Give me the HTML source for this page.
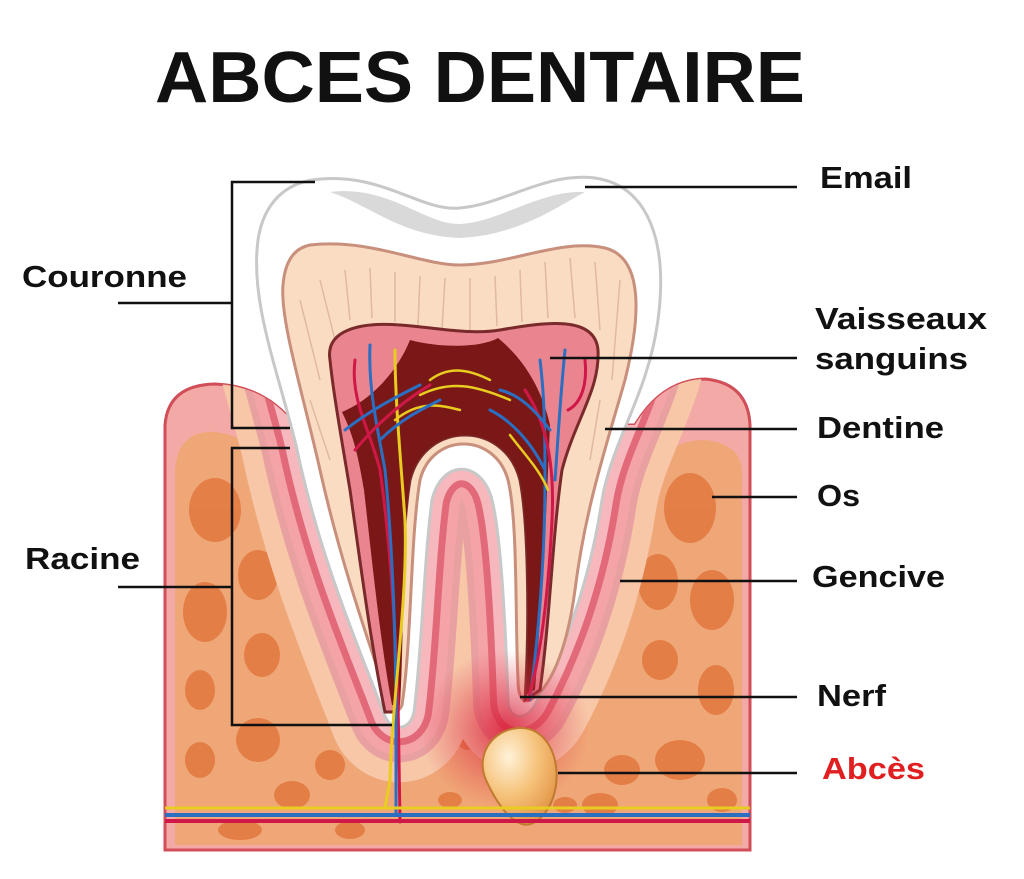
<!DOCTYPE html>
<html><head><meta charset="utf-8"><style>
html,body{margin:0;padding:0;background:#fff;}
svg{display:block}
text{font-family:"Liberation Sans",Arial,sans-serif;font-weight:bold;}
</style></head><body>
<svg width="1024" height="879" viewBox="0 0 1024 879" xmlns="http://www.w3.org/2000/svg">
<defs>
<radialGradient id="glow" cx="0.5" cy="0.5" r="0.5">
<stop offset="0" stop-color="#d8203a" stop-opacity="0.85"/>
<stop offset="1" stop-color="#e04050" stop-opacity="0"/>
</radialGradient>
<radialGradient id="abs" cx="0.35" cy="0.3" r="0.8">
<stop offset="0" stop-color="#fff2d8"/>
<stop offset="0.5" stop-color="#f6c27a"/>
<stop offset="1" stop-color="#e09040"/>
</radialGradient>
<path id="blk" d="M165,850 L165,425 Q168,385 215,384 Q265,386 295,425 L635,425 Q662,380 705,379 Q748,383 750,425 L750,850 Z"/>
<clipPath id="cb"><use href="#blk"/></clipPath>
<path id="ep" d="M312,180 C380,170 420,212 460,208 C505,204 545,172 595,178 C650,186 668,245 658,320 C648,395 612,440 602,500 C590,580 565,650 535,705 C525,722 508,720 508,700 C506,640 502,540 492,500 C482,460 442,458 432,500 C424,560 422,650 414,712 C410,732 390,732 384,714 C360,650 320,560 296,445 C276,365 250,300 258,240 C264,200 288,184 312,180 Z"/>
</defs>
<rect width="1024" height="879" fill="#fff"/>

<!-- gum block -->
<use href="#blk" fill="#f3a9a6" stroke="#d04e58" stroke-width="3"/>
<path d="M175,845 L175,470 Q178,430 215,432 Q250,436 280,470 L650,470 Q670,440 705,440 Q740,444 742,470 L742,845 Z" fill="#f0a777"/>
<g fill="#e2783f" opacity="0.85">
<ellipse cx="215" cy="510" rx="26" ry="32"/><ellipse cx="205" cy="612" rx="22" ry="30"/><ellipse cx="258" cy="575" rx="20" ry="25"/>
<ellipse cx="200" cy="690" rx="15" ry="20"/><ellipse cx="262" cy="655" rx="18" ry="22"/><ellipse cx="200" cy="760" rx="15" ry="18"/>
<ellipse cx="258" cy="740" rx="22" ry="22"/><ellipse cx="292" cy="795" rx="18" ry="14"/><ellipse cx="330" cy="765" rx="15" ry="15"/>
<ellipse cx="240" cy="830" rx="22" ry="10"/><ellipse cx="690" cy="508" rx="26" ry="35"/><ellipse cx="658" cy="582" rx="20" ry="28"/>
<ellipse cx="712" cy="600" rx="22" ry="30"/><ellipse cx="660" cy="660" rx="18" ry="20"/><ellipse cx="716" cy="690" rx="18" ry="25"/>
<ellipse cx="680" cy="760" rx="25" ry="20"/><ellipse cx="622" cy="770" rx="18" ry="15"/><ellipse cx="722" cy="800" rx="15" ry="12"/>
<ellipse cx="600" cy="805" rx="18" ry="12"/><ellipse cx="455" cy="665" rx="8" ry="6"/><ellipse cx="468" cy="742" rx="10" ry="8"/>
<ellipse cx="450" cy="800" rx="12" ry="8"/><ellipse cx="565" cy="805" rx="12" ry="8"/><ellipse cx="350" cy="830" rx="15" ry="9"/>
</g>

<g clip-path="url(#cb)">
<use href="#ep" stroke="#f7c7a8" stroke-width="110" fill="none"/>
<use href="#ep" stroke="#e8a0a0" stroke-width="70" fill="none"/>
<use href="#ep" stroke="#f4a4a6" stroke-width="56" fill="none"/>
<use href="#ep" stroke="#e26a78" stroke-width="36" fill="none"/>
<use href="#ep" stroke="#f6b8bc" stroke-width="22" fill="none"/>
</g>
<use href="#ep" fill="#ffffff" stroke="#c8c8c8" stroke-width="3"/>
<path d="M330,192 C390,185 425,225 460,224 C500,222 540,190 585,192 C560,205 520,235 460,238 C400,236 370,205 330,192 Z" fill="#d9d9d9"/>

<!-- dentine -->
<path d="M310,245 C370,238 420,265 460,265 C510,265 560,238 605,248 C645,258 640,320 625,380 C605,450 585,510 575,590 C567,650 550,690 530,700 C520,705 518,690 518,680 C515,620 518,520 508,480 C495,432 432,432 420,480 C410,540 412,640 402,705 C398,715 390,712 388,700 C368,640 340,560 320,470 C302,390 280,320 283,285 C285,260 295,248 310,245 Z" fill="#f9dcc2" stroke="#c8907c" stroke-width="3"/>
<g stroke="#dfb9a0" stroke-width="1.5">
<line x1="300" y1="300" x2="320" y2="380"/><line x1="320" y1="280" x2="335" y2="340"/><line x1="345" y1="270" x2="350" y2="320"/>
<line x1="370" y1="268" x2="372" y2="318"/><line x1="395" y1="272" x2="395" y2="322"/><line x1="420" y1="276" x2="418" y2="326"/>
<line x1="445" y1="278" x2="442" y2="330"/><line x1="470" y1="278" x2="470" y2="330"/><line x1="495" y1="276" x2="497" y2="326"/>
<line x1="520" y1="270" x2="522" y2="322"/><line x1="545" y1="262" x2="548" y2="318"/><line x1="570" y1="258" x2="575" y2="318"/>
<line x1="595" y1="262" x2="600" y2="330"/><line x1="620" y1="280" x2="612" y2="380"/><line x1="310" y1="400" x2="330" y2="460"/>
<line x1="600" y1="400" x2="590" y2="460"/>
</g>

<!-- pulp -->
<path d="M330,360 C325,330 360,322 400,325 C440,328 470,335 500,330 C545,322 595,315 598,350 C600,390 575,420 562,470 C552,540 550,620 540,690 L525,700 C530,620 528,520 520,480 C505,420 425,420 410,480 C400,540 402,640 398,712 L385,712 C370,640 360,560 350,490 C340,430 333,390 330,360 Z" fill="#ea8590" stroke="#7a2a2a" stroke-width="3"/>
<path d="M410,340 C440,348 480,348 498,338 C525,360 542,390 550,425 C548,470 545,560 535,690 L526,695 C530,620 528,520 520,480 C505,420 425,420 410,480 C402,540 404,640 400,705 L392,705 C380,640 372,560 364,490 C356,440 348,425 342,412 C372,400 398,370 410,340 Z" fill="#7a1818"/>

<!-- vessels -->
<g fill="none" stroke-width="3" stroke-linecap="round">
<path d="M355,360 C350,400 370,430 380,470 C390,540 395,620 398,700 L400,822" stroke="#d01848"/>
<path d="M370,345 C368,390 378,430 385,470 C392,540 395,620 396,700 L396,815" stroke="#2a6fc2"/>
<path d="M395,350 C395,400 400,450 405,520 C408,600 392,700 390,780 L385,808" stroke="#e8cc20"/>
<path d="M540,360 C545,400 545,440 545,480 C545,560 538,640 530,700" stroke="#2a6fc2"/>
<path d="M565,350 C560,400 558,440 555,480" stroke="#2a6fc2"/>
<path d="M585,360 C588,390 578,405 568,410" stroke="#d01848"/>
<path d="M525,390 C545,420 555,460 552,520 C548,600 540,660 528,700" stroke="#d01848"/>
<path d="M430,380 C450,365 470,370 490,380 M420,395 C450,380 475,385 510,400 M395,420 C420,400 440,405 460,410" stroke="#e8cc20" stroke-width="2.5"/>
<path d="M345,430 C370,410 400,395 420,385 M380,440 C400,420 420,410 440,400" stroke="#2a6fc2"/>
<path d="M355,450 C380,420 405,400 430,385" stroke="#d01848"/>
<path d="M490,410 C510,420 530,440 545,470 M500,390 C520,395 535,410 550,430" stroke="#2a6fc2"/>
<path d="M510,435 C525,455 540,470 548,490" stroke="#e8cc20" stroke-width="2.5"/>
</g>

<!-- abscess -->
<ellipse cx="505" cy="730" rx="85" ry="80" fill="url(#glow)"/>
<path d="M518,728 C545,726 560,755 556,785 C552,812 535,828 522,824 C508,820 495,800 486,780 C475,755 492,730 518,728 Z" fill="url(#abs)" stroke="#c07a30" stroke-width="2"/>

<!-- bottom stripes -->
<line x1="165" y1="808" x2="750" y2="808" stroke="#e8cc20" stroke-width="3"/>
<line x1="165" y1="815" x2="750" y2="815" stroke="#2a6fc2" stroke-width="4"/>
<line x1="165" y1="821" x2="750" y2="821" stroke="#d01848" stroke-width="4"/>

<!-- leader lines -->
<g stroke="#111" stroke-width="2.5" fill="none">
<polyline points="315,182 232,182 232,428 290,428"/>
<line x1="118" y1="303" x2="232" y2="303"/>
<polyline points="290,448 232,448 232,725 392,725"/>
<line x1="118" y1="587" x2="232" y2="587"/>
<line x1="585" y1="187" x2="797" y2="187"/>
<line x1="550" y1="358" x2="797" y2="358"/>
<line x1="605" y1="429" x2="797" y2="429"/>
<line x1="712" y1="497" x2="797" y2="497"/>
<line x1="620" y1="581" x2="797" y2="581"/>
<line x1="520" y1="697" x2="797" y2="697"/>
<line x1="558" y1="773" x2="797" y2="773"/>
</g>

<text x="155" y="102" font-size="72" fill="#111" textLength="650" lengthAdjust="spacingAndGlyphs">ABCES DENTAIRE</text>
<g font-size="31" fill="#111">
<text x="820" y="188" textLength="92" lengthAdjust="spacingAndGlyphs">Email</text>
<text x="815" y="329" textLength="172" lengthAdjust="spacingAndGlyphs">Vaisseaux</text>
<text x="815" y="369" textLength="153" lengthAdjust="spacingAndGlyphs">sanguins</text>
<text x="817" y="438" textLength="127" lengthAdjust="spacingAndGlyphs">Dentine</text>
<text x="817" y="506" textLength="43" lengthAdjust="spacingAndGlyphs">Os</text>
<text x="812" y="587" textLength="133" lengthAdjust="spacingAndGlyphs">Gencive</text>
<text x="817" y="706" textLength="69" lengthAdjust="spacingAndGlyphs">Nerf</text>
<text x="822" y="779" fill="#e02020" textLength="103" lengthAdjust="spacingAndGlyphs">Abcès</text>
<text x="22" y="287" textLength="165" lengthAdjust="spacingAndGlyphs">Couronne</text>
<text x="25" y="569" textLength="115" lengthAdjust="spacingAndGlyphs">Racine</text>
</g>
</svg>
</body></html>
